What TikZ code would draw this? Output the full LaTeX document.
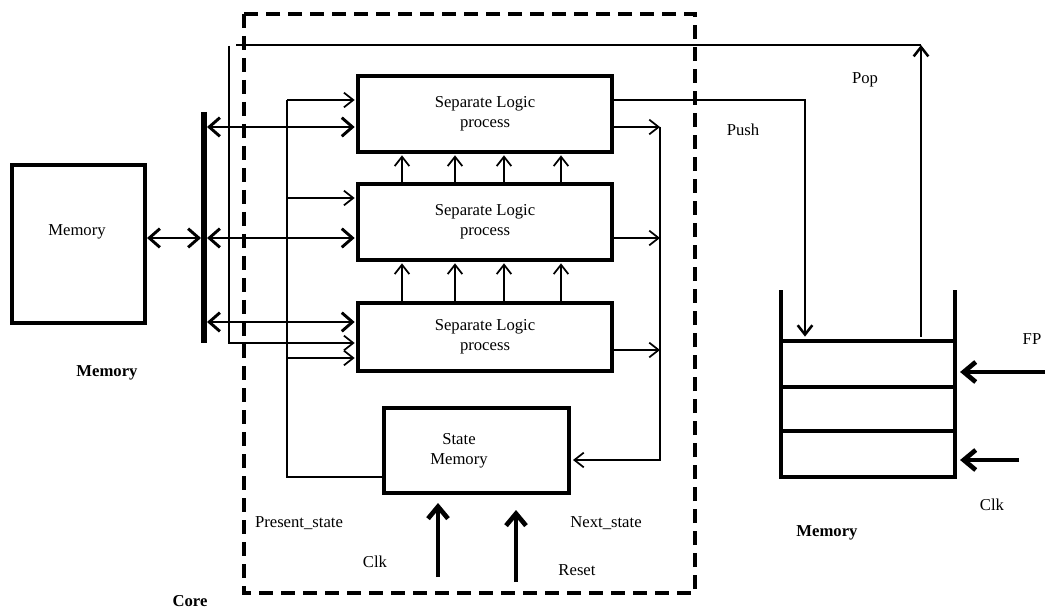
\documentclass[tikz,border=0pt]{standalone}
\usepackage{fontspec}
\setmainfont{Liberation Serif}
\usetikzlibrary{arrows.meta}

\tikzset{
  box/.style={draw, line width=3pt, inner sep=0pt},
  blk/.style={box, minimum width=190.5pt, align=center},
  cell/.style={draw, line width=3.6pt, minimum width=130.5pt, inner sep=0pt},
  wire/.style={line width=1.3pt},
  wirebig/.style={line width=1.9pt},
  busline/.style={line width=2.2pt},
  heavy/.style={line width=3.5pt},
  tip/.style={-{Straight Barb[length=7pt,width=11pt]}},
  dbl/.style={{Straight Barb[length=8pt,width=14pt]}-{Straight Barb[length=8pt,width=14pt]}},
  bigtip/.style={-{Straight Barb[length=9pt,width=15pt]}},
  corebox/.style={line width=3pt, dash pattern=on 10.5pt off 6pt},
  lbl/.style={inner sep=0.75pt, align=center}
}

\begin{document}
\begin{tikzpicture}[x=0.75pt,y=0.75pt,yscale=-1,xscale=1,
  every node/.style={font=\fontsize{12.5}{15}\selectfont}]
\useasboundingbox (0,0) rectangle (1045,609);

%Shape: Rectangle [core, dashed]
\draw[corebox] (244,14) rectangle (695,593);

%Shape: Rectangle [memory]
\node[box, minimum width=99.75pt, minimum height=118.5pt] (mem) at (78.5,244) {};
%Straight Lines [bus]
\coordinate (bustop) at (204,112);
\coordinate (busbot) at (204,343);
\draw[line width=5pt] (bustop) -- (busbot);

%Shape: Rectangle [logic blocks]
\node[blk, minimum height=57pt] (b1) at (485,114) {Separate Logic\\process};
\node[blk, minimum height=57pt] (b2) at (485,222) {Separate Logic\\process};
\node[blk, minimum height=51pt] (b3) at (485,337) {Separate Logic\\process};
%Shape: Rectangle [state memory]
\node[box, minimum width=138.75pt, minimum height=63.75pt] (smem) at (476.5,450.5) {};

%Shape: Rectangle [stack]
\node[cell, minimum height=34.5pt] (s1) at (868,364) {};
\node[cell, minimum height=33pt] (s2) at (868,409) {};
\node[cell, minimum height=34.5pt] (s3) at (868,454) {};
\draw[line width=3.6pt] (781,343) -- (781,290);
\draw[line width=3.6pt] (955,343) -- (955,290);

%Straight Lines [memory <-> bus]
\draw[busline,dbl] (mem.east |- 0,238) -- (201,238);
\foreach \y/\b in {127/b1,238/b2,322/b3}
  \draw[busline,dbl] (207,\y) -- ([xshift=-1pt]\b.west |- 0,\y);

%Straight Lines [present state]
\draw[wire] (smem.west |- 0,477) -| (287,100);
\foreach \y/\b in {100/b1,198/b2,358/b3}
  \draw[wire,tip] (287,\y) -- ([xshift=-1pt]\b.west |- 0,\y);

%Straight Lines [block to block]
\foreach \x in {402,455,504,561} {
  \draw[wire,tip] (b2.north -| \x,0) -- ([yshift=1pt]b1.south -| \x,0);
  \draw[wire,tip] (b3.north -| \x,0) -- ([yshift=1pt]b2.south -| \x,0);
}

%Straight Lines [next state]
\foreach \y/\b in {127/b1,238/b2,350/b3}
  \draw[wire,tip] (\b.east |- 0,\y) -- (660,\y);
\draw[wire,tip] (660,127) |- ([xshift=1.5pt]smem.east |- 0,460);

%Straight Lines [push]
\draw[wirebig,tip] (b1.east |- 0,100) -| ([yshift=-1.5pt]s1.north -| 805,0);
%Straight Lines [pop]
\draw[wirebig,tip] ([yshift=-1.5pt]s1.north -| 921,0) -- (921,45);
\draw[wirebig] (921,45) -- (236,45);
\draw[wire,tip] (229,46) -- (229,343) -- ([xshift=-1pt]b3.west |- 0,343);

%Straight Lines [FP, Clk into stack]
\draw[heavy,bigtip] (1045,372) -- ([xshift=2pt]s1.east |- 0,372);
\draw[heavy,bigtip] (1019,460) -- ([xshift=2pt]s3.east |- 0,460);
%Straight Lines [Clk, Reset into state memory]
\draw[heavy,bigtip] (438,577) -- (438,503);
\draw[heavy,bigtip] (516,582) -- (516,510);

% Text Node
\node[lbl] (memtxt) at (77,232) {Memory};
% Text Node
\node[lbl] (memlbl) at (107,373) {\bfseries Memory};
% Text Node
\node[lbl] (corelbl) at (190,601) {\bfseries Core};
% Text Node
\node[lbl] (smemtxt) at (459,451) {State\\Memory};
% Text Node
\node[lbl] (pslbl) at (299,523) {Present\_state};
% Text Node
\node[lbl] (nslbl) at (606,523) {Next\_state};
% Text Node
\node[lbl] (clklbl) at (375,562) {Clk};
% Text Node
\node[lbl] (rstlbl) at (577,570) {Reset};
% Text Node
\node[lbl] (pushlbl) at (743,130) {Push};
% Text Node
\node[lbl] (poplbl) at (865,80) {Pop};
% Text Node
\node[lbl] (fplbl) at (1032,339) {FP};
% Text Node
\node[lbl] (sclklbl) at (992,505) {Clk};
% Text Node
\node[lbl] (stklbl) at (827,533) {\bfseries Memory};

\end{tikzpicture}
\end{document}
